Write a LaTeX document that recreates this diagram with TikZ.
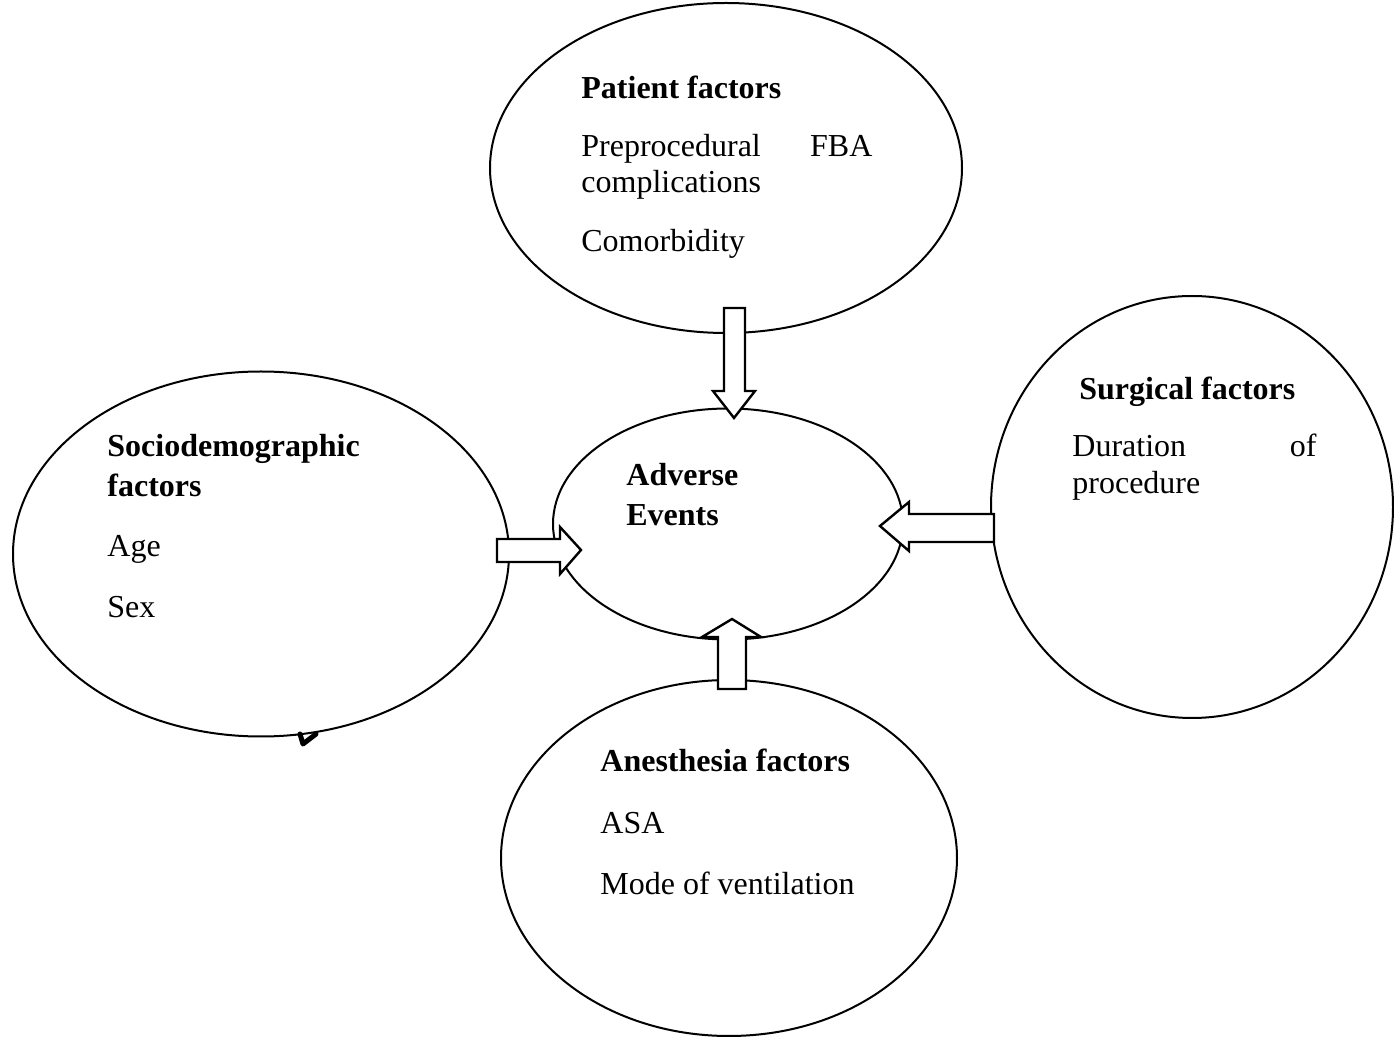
\documentclass[tikz,border=0pt]{standalone}
\usepackage{fontspec}
\setmainfont{Liberation Serif}
\usetikzlibrary{shapes.geometric}
\tikzset{
  bubble/.style={draw=black, line width=1pt, ellipse, inner sep=0pt, outer sep=0pt},
  lbl/.style={anchor=base west, inner sep=0pt, font=\fontsize{16}{18}\selectfont},
  hdr/.style={lbl, font=\fontsize{16}{18}\selectfont\bfseries},
  blockarrow/.style={draw=black, fill=white, line width=1.2pt, line join=miter}
}
\begin{document}
\begin{tikzpicture}[x=0.5pt,y=-0.5pt]
\useasboundingbox (0,0) rectangle (1394,1037);
% ellipses (sizes in pt = half the pixel size)
\node[bubble, minimum width=175pt, minimum height=115.5pt] (adv) at (728,524) {};
\node[bubble, minimum width=236pt, minimum height=165pt] (pat) at (726,168) {};
\node[bubble, minimum width=201pt, minimum height=211pt] (sur) at (1192,507) {};
\node[bubble, minimum width=248pt, minimum height=182.5pt] (soc) at (261,554) {};
\node[bubble, minimum width=228pt, minimum height=178pt] (ane) at (729,858) {};
% texts
\node[hdr] (pat1) at (581,99) {Patient factors};
\node[lbl] (pat2) at (581,157) {\makebox[145.5pt][s]{Preprocedural\hfill FBA}};
\node[lbl] (pat3) at (581,193) {complications};
\node[lbl] (pat4) at (581,252) {Comorbidity};
\node[hdr] (sur1) at (1079,400) {Surgical factors};
\node[lbl] (sur2) at (1072,457) {\makebox[122pt][s]{Duration\hfill of}};
\node[lbl] (sur3) at (1072,494) {procedure};
\node[hdr] (soc1) at (107,457) {Sociodemographic};
\node[hdr] (soc2) at (107,497) {factors};
\node[lbl] (soc3) at (107,557) {Age};
\node[lbl] (soc4) at (107,618) {Sex};
\node[hdr] (adv1) at (626,486) {Adverse};
\node[hdr] (adv2) at (626,526) {Events};
\node[hdr] (ane1) at (600,772) {Anesthesia factors};
\node[lbl] (ane2) at (600,834) {ASA};
\node[lbl] (ane3) at (600,894) {Mode of ventilation};
% block arrows
\draw[blockarrow] (724,308) -- (745,308) -- (745,391) -- (755,391) -- (734,418) -- (713,391) -- (724,391) -- cycle;
\draw[blockarrow] (718,689) -- (746,689) -- (746,637) -- (761,637) -- (732,619) -- (702,637) -- (718,637) -- cycle;
\draw[blockarrow] (497,539) -- (560,539) -- (560,527) -- (581,550) -- (560,574) -- (560,562) -- (497,562) -- cycle;
\draw[blockarrow] (994,514) -- (909,514) -- (909,502) -- (880,526) -- (909,551) -- (909,542) -- (994,542) -- cycle;
% stray tick mark
\draw[line width=2.5pt, line cap=round, line join=round] (300,734) -- (303,744) -- (316,734);
\end{tikzpicture}
\end{document}
